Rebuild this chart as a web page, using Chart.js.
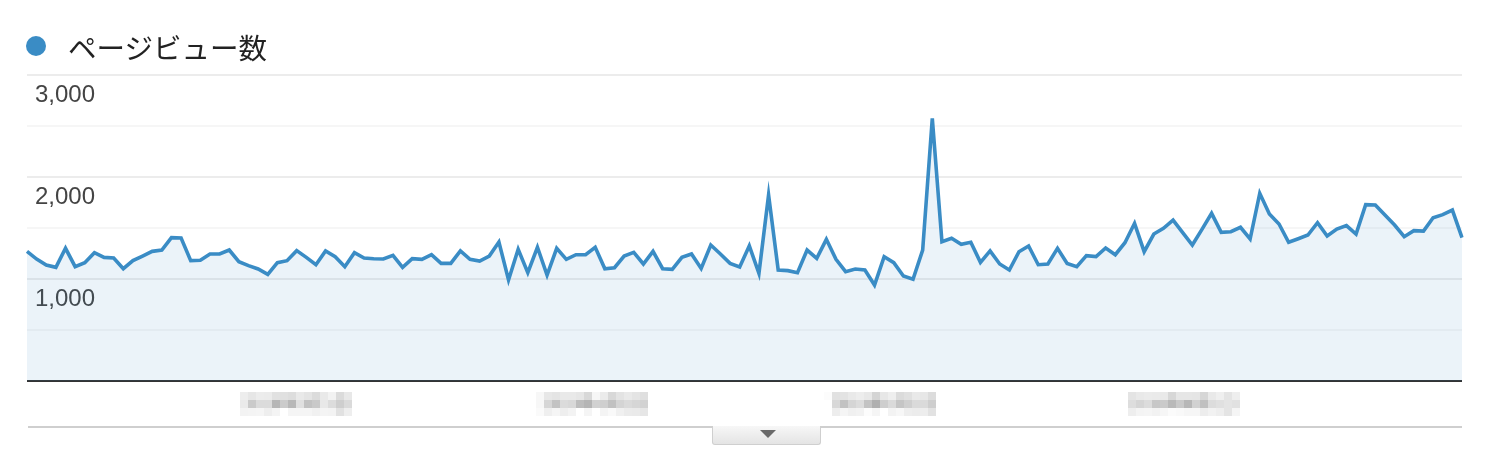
<!DOCTYPE html>
<html>
<head>
<meta charset="utf-8">
<script src="https://cdn.jsdelivr.net/npm/chart.js@4.4.1/dist/chart.umd.min.js"></script>
<style>
  html, body { margin: 0; padding: 0; background: #fff; }
  #wrap { position: relative; width: 1488px; height: 456px; overflow: hidden; }
  #c { position: absolute; left: 0; top: 0; }
  #legend { position: absolute; left: 26px; top: 28px; height: 36px; display: flex; align-items: center;
    font-family: "Noto Sans CJK JP", "Noto Sans", sans-serif; font-size: 28.5px; color: #222; }
  #legend .dot { width: 20px; height: 20px; border-radius: 50%; background: #3a8cc5; margin-right: 22px; }
  #sep { position: absolute; left: 28px; top: 426px; width: 1434px; height: 2px; background: #cfcfcf; }
  #btn { position: absolute; left: 712px; top: 426px; width: 107px; height: 18px;
    border: 1px solid #cfcfcf; border-top: none; border-radius: 0 0 3px 3px;
    background: linear-gradient(#f7f7f7, #e4e4e4); }
  #btn .tri { position: absolute; left: 47px; top: 4px; width: 0; height: 0;
    border-left: 8px solid transparent; border-right: 8px solid transparent; border-top: 8px solid #6a6a6a; }
</style>
</head>
<body>
<div id="wrap">
  <canvas id="c" width="1488" height="456"></canvas>
  <div id="legend"><span class="dot"></span><span id="legendText"></span></div>
  <div id="sep"></div>
  <div id="btn"><div class="tri"></div></div>
</div>
<script>
// ---- data ----
const seriesName = 'ページビュー数';
const startDate = [2019, 2, 1];   // first day (year, month, day)
const dayCount = 150;
const pageViews = [
  1270, 1195, 1137, 1114, 1301, 1121, 1160, 1258, 1212, 1206,
  1101, 1180, 1225, 1271, 1284, 1405, 1402, 1180, 1183, 1245,
  1245, 1284, 1170, 1131, 1098, 1045, 1160, 1180, 1278, 1212,
  1140, 1275, 1219, 1121, 1258, 1206, 1199, 1196, 1232, 1114,
  1199, 1193, 1238, 1153, 1153, 1275, 1193, 1176, 1225, 1363,
  990, 1291, 1062, 1311, 1039, 1301, 1193, 1238, 1238, 1311,
  1101, 1111, 1225, 1261, 1147, 1271, 1101, 1095, 1212, 1245,
  1104, 1333, 1245, 1153, 1118, 1325, 1056, 1824, 1088, 1082,
  1062, 1284, 1203, 1389, 1193, 1072, 1098, 1088, 941, 1219,
  1160, 1029, 997, 1284, 2575, 1366, 1399, 1340, 1360, 1163,
  1276, 1147, 1088, 1268, 1324, 1140, 1147, 1301, 1153, 1121,
  1229, 1219, 1304, 1238, 1356, 1546, 1268, 1441, 1497, 1578,
  1454, 1333, 1487, 1644, 1458, 1464, 1507, 1392, 1840, 1637,
  1539, 1360, 1395, 1431, 1552, 1422, 1490, 1523, 1441, 1729,
  1725, 1627, 1529, 1415, 1474, 1470, 1601, 1631, 1676, 1405
];
const yTickValues = [1000, 2000, 3000];
const yTickLabels = ['1,000', '2,000', '3,000'];
const xTickIndices = [28, 59, 89, 120];
const xTickLabels = ['2019年3月1日', '2019年4月1日', '2019年5月1日', '2019年6月1日'];

// categories: one label per day
const categories = [];
for (let i = 0; i < dayCount; i++) {
  const d = new Date(startDate[0], startDate[1] - 1, startDate[2] + i);
  categories.push(d.getFullYear() + '年' + (d.getMonth() + 1) + '月' + d.getDate() + '日');
}

document.getElementById('legendText').textContent = seriesName;

// ---- pixelated x labels plugin ----
const mosaicLabels = {
  id: 'mosaicLabels',
  afterDraw(chart) {
    const xs = chart.scales.x;
    const top = 384, rows = 5, B = 8, W = chart.width;
    const off = document.createElement('canvas');
    off.width = W; off.height = rows * B;
    const o = off.getContext('2d');
    o.fillStyle = '#fff'; o.fillRect(0, 0, W, rows * B);
    o.font = '17px "Liberation Sans", "Noto Sans CJK JP", sans-serif';
    o.fillStyle = '#555';
    o.textAlign = 'center'; o.textBaseline = 'middle';
    xTickIndices.forEach((idx, k) => {
      o.fillText(xTickLabels[k], xs.getPixelForValue(idx), 404 - top);
    });
    const img = o.getImageData(0, 0, W, rows * B).data;
    const ctx = chart.ctx;
    ctx.save();
    for (let r = 0; r < rows; r++) {
      for (let c = 0; c < Math.floor(W / B); c++) {
        let sr = 0, sg = 0, sb = 0;
        for (let yy = 0; yy < B; yy++) for (let xx = 0; xx < B; xx++) {
          const p = ((r * B + yy) * W + c * B + xx) * 4;
          sr += img[p]; sg += img[p + 1]; sb += img[p + 2];
        }
        const n = B * B;
        sr = Math.round(sr / n); sg = Math.round(sg / n); sb = Math.round(sb / n);
        if (sr > 252 && sg > 252 && sb > 252) continue;
        ctx.fillStyle = `rgb(${sr},${sg},${sb})`;
        ctx.fillRect(c * B, top + r * B, B, B);
      }
    }
    ctx.restore();
  }
};

new Chart(document.getElementById('c'), {
  type: 'line',
  data: {
    labels: categories,
    datasets: [{
      label: seriesName,
      data: pageViews,
      borderColor: '#3a8cc5',
      borderWidth: 3.6,
      backgroundColor: 'rgba(60,140,200,0.1)',
      fill: 'origin',
      tension: 0,
      pointRadius: 0,
      pointHoverRadius: 0,
      borderJoinStyle: 'miter'
    }]
  },
  options: {
    responsive: false,
    animation: false,
    devicePixelRatio: 1,
    layout: { padding: { left: 27, right: 26, top: 75, bottom: 75 } },
    plugins: { legend: { display: false }, tooltip: { enabled: false } },
    scales: {
      x: { display: false },
      y: {
        min: 0, max: 3000,
        afterFit(s) { s.width = 0; },
        border: { display: false },
        grid: {
          drawTicks: false,
          color: c => c.tick.value === 0 ? '#333' : (c.tick.value % 1000 === 0 ? '#ececec' : '#f6f6f6'),
          lineWidth: 2
        },
        ticks: {
          stepSize: 500,
          mirror: true,
          padding: 8,
          labelOffset: 20,
          color: '#444',
          font: { family: '"Liberation Sans", Arial, sans-serif', size: 24 },
          textStrokeColor: '#fff',
          textStrokeWidth: 5,
          callback: v => { const i = yTickValues.indexOf(v); return i >= 0 ? yTickLabels[i] : ''; }
        }
      }
    }
  },
  plugins: [mosaicLabels]
});
</script>
</body>
</html>
